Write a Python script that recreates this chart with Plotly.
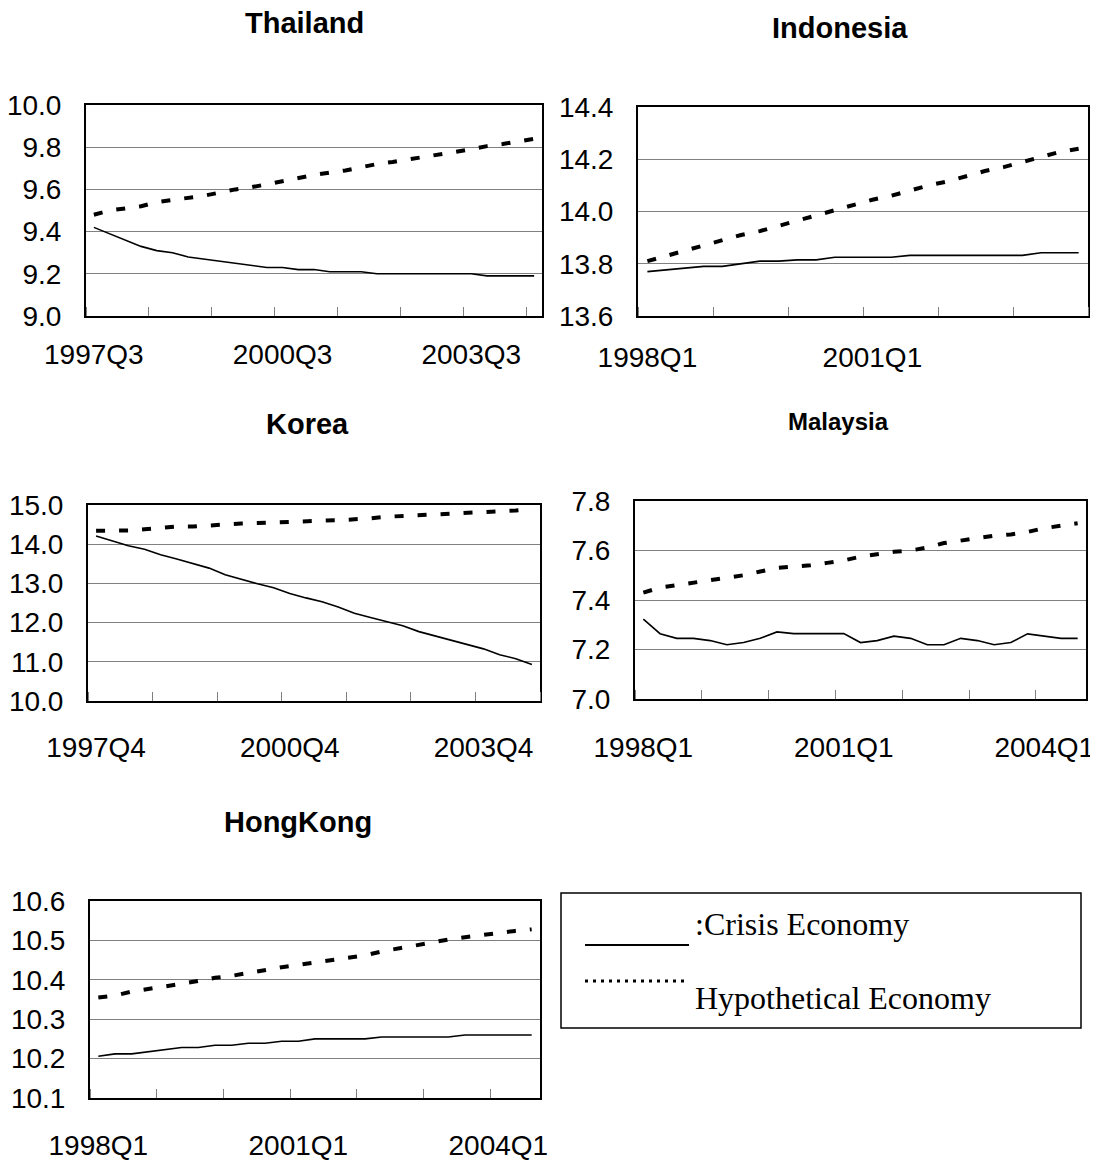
import plotly.graph_objects as go

# the page body has an 8px margin, so the figure starts at (8, 8) of the window
OFF = 8
W, H = 1098 - OFF, 1163 - OFF


def px(x):
    return (x - OFF) / W


def py(y):
    return 1 - (y - OFF) / H


# ---------------- data ----------------
def quarters(year, q, n):
    out = []
    for _ in range(n):
        out.append(f"{year}Q{q}")
        q += 1
        if q == 5:
            q = 1
            year += 1
    return out

thai_q = quarters(1997, 3, 29)
thai_crisis = [9.42, 9.39, 9.36, 9.33, 9.31, 9.30, 9.28, 9.27, 9.26, 9.25, 9.24, 9.23, 9.23, 9.22, 9.22,
               9.21, 9.21, 9.21, 9.20, 9.20, 9.20, 9.20, 9.20, 9.20, 9.20, 9.19, 9.19, 9.19, 9.19]
thai_hypo = [9.48, 9.50, 9.51, 9.52, 9.54, 9.55, 9.56, 9.57, 9.585, 9.60, 9.61, 9.625, 9.64, 9.655, 9.668,
             9.68, 9.69, 9.705, 9.72, 9.73, 9.743, 9.755, 9.768, 9.778, 9.79, 9.805, 9.815, 9.828, 9.84]

indo_q = quarters(1998, 1, 24)
indo_crisis = [13.77, 13.777, 13.785, 13.79, 13.79, 13.80, 13.81, 13.81, 13.815, 13.815, 13.825, 13.825,
               13.825, 13.825, 13.832, 13.832, 13.832, 13.832, 13.832, 13.832, 13.832, 13.842, 13.842, 13.842]
indo_hypo = [13.81, 13.83, 13.85, 13.87, 13.89, 13.91, 13.925, 13.945, 13.965, 13.985, 14.005, 14.025,
             14.045, 14.06, 14.08, 14.10, 14.115, 14.135, 14.155, 14.17, 14.19, 14.21, 14.228, 14.24]

korea_q = quarters(1997, 4, 28)
korea_crisis = [14.21, 14.08, 13.96, 13.87, 13.73, 13.62, 13.51, 13.39, 13.22, 13.10, 12.99, 12.89, 12.74, 12.63,
                12.53, 12.40, 12.24, 12.13, 12.03, 11.92, 11.77, 11.66, 11.56, 11.45, 11.33, 11.18, 11.08, 10.93]
korea_hypo = [14.34, 14.34, 14.35, 14.38, 14.42, 14.45, 14.45, 14.48, 14.51, 14.53, 14.54, 14.56, 14.58, 14.60,
              14.60, 14.61, 14.63, 14.66, 14.70, 14.72, 14.73, 14.76, 14.77, 14.79, 14.81, 14.83, 14.86, 14.90]

malay_q = quarters(1998, 1, 27)
malay_crisis = [7.323, 7.264, 7.245, 7.245, 7.236, 7.219, 7.228, 7.245, 7.271, 7.264, 7.264, 7.264, 7.264, 7.228,
                7.236, 7.254, 7.245, 7.219, 7.219, 7.245, 7.236, 7.219, 7.228, 7.263, 7.254, 7.245, 7.245]
malay_hypo = [7.43, 7.45, 7.46, 7.47, 7.48, 7.49, 7.50, 7.515, 7.53, 7.535, 7.54, 7.55, 7.56, 7.575,
              7.585, 7.595, 7.60, 7.612, 7.63, 7.64, 7.65, 7.66, 7.665, 7.675, 7.69, 7.70, 7.71]

hk_q = quarters(1998, 1, 27)
hk_crisis = [10.206, 10.212, 10.212, 10.217, 10.223, 10.228, 10.228, 10.234, 10.234, 10.239, 10.239, 10.244,
             10.244, 10.25, 10.25, 10.25, 10.25, 10.255, 10.255, 10.255, 10.255, 10.255, 10.26, 10.26, 10.26,
             10.26, 10.26]
hk_hypo = [10.355, 10.36, 10.37, 10.376, 10.383, 10.39, 10.397, 10.405, 10.41, 10.418, 10.426, 10.432,
           10.438, 10.444, 10.452, 10.457, 10.462, 10.472, 10.48, 10.488, 10.494, 10.502, 10.508, 10.514,
           10.52, 10.524, 10.528]

titles = ["Thailand", "Indonesia", "Korea", "Malaysia", "HongKong"]
legend_labels = [":Crisis Economy", "Hypothetical Economy"]

# ---------------- styling / layout ----------------
TICKFONT = dict(family="Liberation Sans, Arial", size=28, color="black")
TITLEFONT = dict(family="Liberation Sans, Arial", size=28, color="black", weight="bold")
SERIF = dict(family="Liberation Serif, Times New Roman, serif", size=32, color="black")

# panels: (categories, crisis, hypo, box px [left, right, top, bottom], yrange, dtick, x label standoff)
panels = [
    (thai_q, thai_crisis, thai_hypo, (86, 542, 105, 316), (9.0, 10.0), 0.2, 12),
    (indo_q, indo_crisis, indo_hypo, (638, 1088, 107, 316), (13.6, 14.4), 0.2, 15),
    (korea_q, korea_crisis, korea_hypo, (88, 540, 505, 701), (10.0, 15.0), 1.0, 20),
    (malay_q, malay_crisis, malay_hypo, (635, 1086, 501, 699), (7.0, 7.8), 0.2, 22),
    (hk_q, hk_crisis, hk_hypo, (90, 540, 901, 1098), (10.1, 10.6), 0.1, 21),
]
title_pos = [(304, 23, 29), (840, 28, 29), (307, 424, 29), (838, 421, 24), (298, 822, 29)]

fig = go.Figure()
layout = dict(
    width=W, height=H, margin=dict(l=0, r=0, t=0, b=0, autoexpand=False),
    paper_bgcolor="white", plot_bgcolor="white", showlegend=False,
)

for k, (cats, crisis, hypo, box, yr, dt, xstand) in enumerate(panels):
    n = len(cats)
    xs = list(range(n))
    suffix = "" if k == 0 else str(k + 1)
    xa, ya = "x" + suffix, "y" + suffix
    fig.add_trace(go.Scatter(x=xs, y=hypo, text=cats, mode="lines", xaxis=xa, yaxis=ya,
                             line=dict(color="black", width=4, dash="9px,14px"),
                             name=legend_labels[1], hovertemplate="%{text}: %{y}<extra></extra>"))
    fig.add_trace(go.Scatter(x=xs, y=crisis, text=cats, mode="lines", xaxis=xa, yaxis=ya,
                             line=dict(color="black", width=1.6),
                             name=legend_labels[0], hovertemplate="%{text}: %{y}<extra></extra>"))
    l, r, t, b = box
    lab_idx = [i for i in (0, 12, 24) if i < n]
    layout["xaxis" + suffix] = dict(
        domain=[px(l), px(r)], anchor=ya, range=[-0.5, n - 0.5], automargin=False,
        tickmode="array", tickvals=lab_idx, ticktext=[cats[i] for i in lab_idx],
        ticks="", showgrid=False, zeroline=False,
        showline=True, mirror=True, linecolor="black", linewidth=2,
        tickfont=TICKFONT, ticklabelstandoff=xstand,
        minor=dict(tickmode="linear", tick0=-0.5, dtick=4, ticks="inside", ticklen=9,
                   tickwidth=1, tickcolor="#7f7f7f", showgrid=False),
        fixedrange=True,
    )
    layout["yaxis" + suffix] = dict(
        domain=[py(b), py(t)], anchor=xa, range=list(yr), automargin=False,
        tickmode="linear", tick0=yr[0], dtick=dt, tickformat=".1f",
        ticks="", showgrid=True, gridcolor="#808080", gridwidth=1, zeroline=False,
        showline=True, mirror=True, linecolor="black", linewidth=2,
        tickfont=TICKFONT, ticklabelstandoff=17, fixedrange=True,
    )

annotations = []
for name, (cx, cy, sz) in zip(titles, title_pos):
    f = dict(TITLEFONT)
    f["size"] = sz
    annotations.append(dict(text=name, x=px(cx), y=py(cy), xref="paper", yref="paper",
                            xanchor="center", yanchor="middle", showarrow=False, font=f))

# legend box drawn by hand (layout like the original)
annotations.append(dict(text=legend_labels[0], x=px(693), y=py(924), xref="paper", yref="paper",
                        xanchor="left", yanchor="middle", showarrow=False, font=SERIF))
annotations.append(dict(text=legend_labels[1], x=px(693), y=py(998), xref="paper", yref="paper",
                        xanchor="left", yanchor="middle", showarrow=False, font=SERIF))
layout["annotations"] = annotations
layout["shapes"] = [
    dict(type="rect", xref="paper", yref="paper", x0=px(561), x1=px(1081), y0=py(1028), y1=py(893),
         line=dict(color="black", width=1.5), fillcolor="rgba(0,0,0,0)"),
    dict(type="line", xref="paper", yref="paper", x0=px(585), x1=px(689), y0=py(945), y1=py(945),
         line=dict(color="black", width=2)),
    dict(type="line", xref="paper", yref="paper", x0=px(585), x1=px(689), y0=py(981), y1=py(981),
         line=dict(color="black", width=3, dash="3px,5px")),
]

fig.update_layout(**layout)
fig.write_html("out.html")
